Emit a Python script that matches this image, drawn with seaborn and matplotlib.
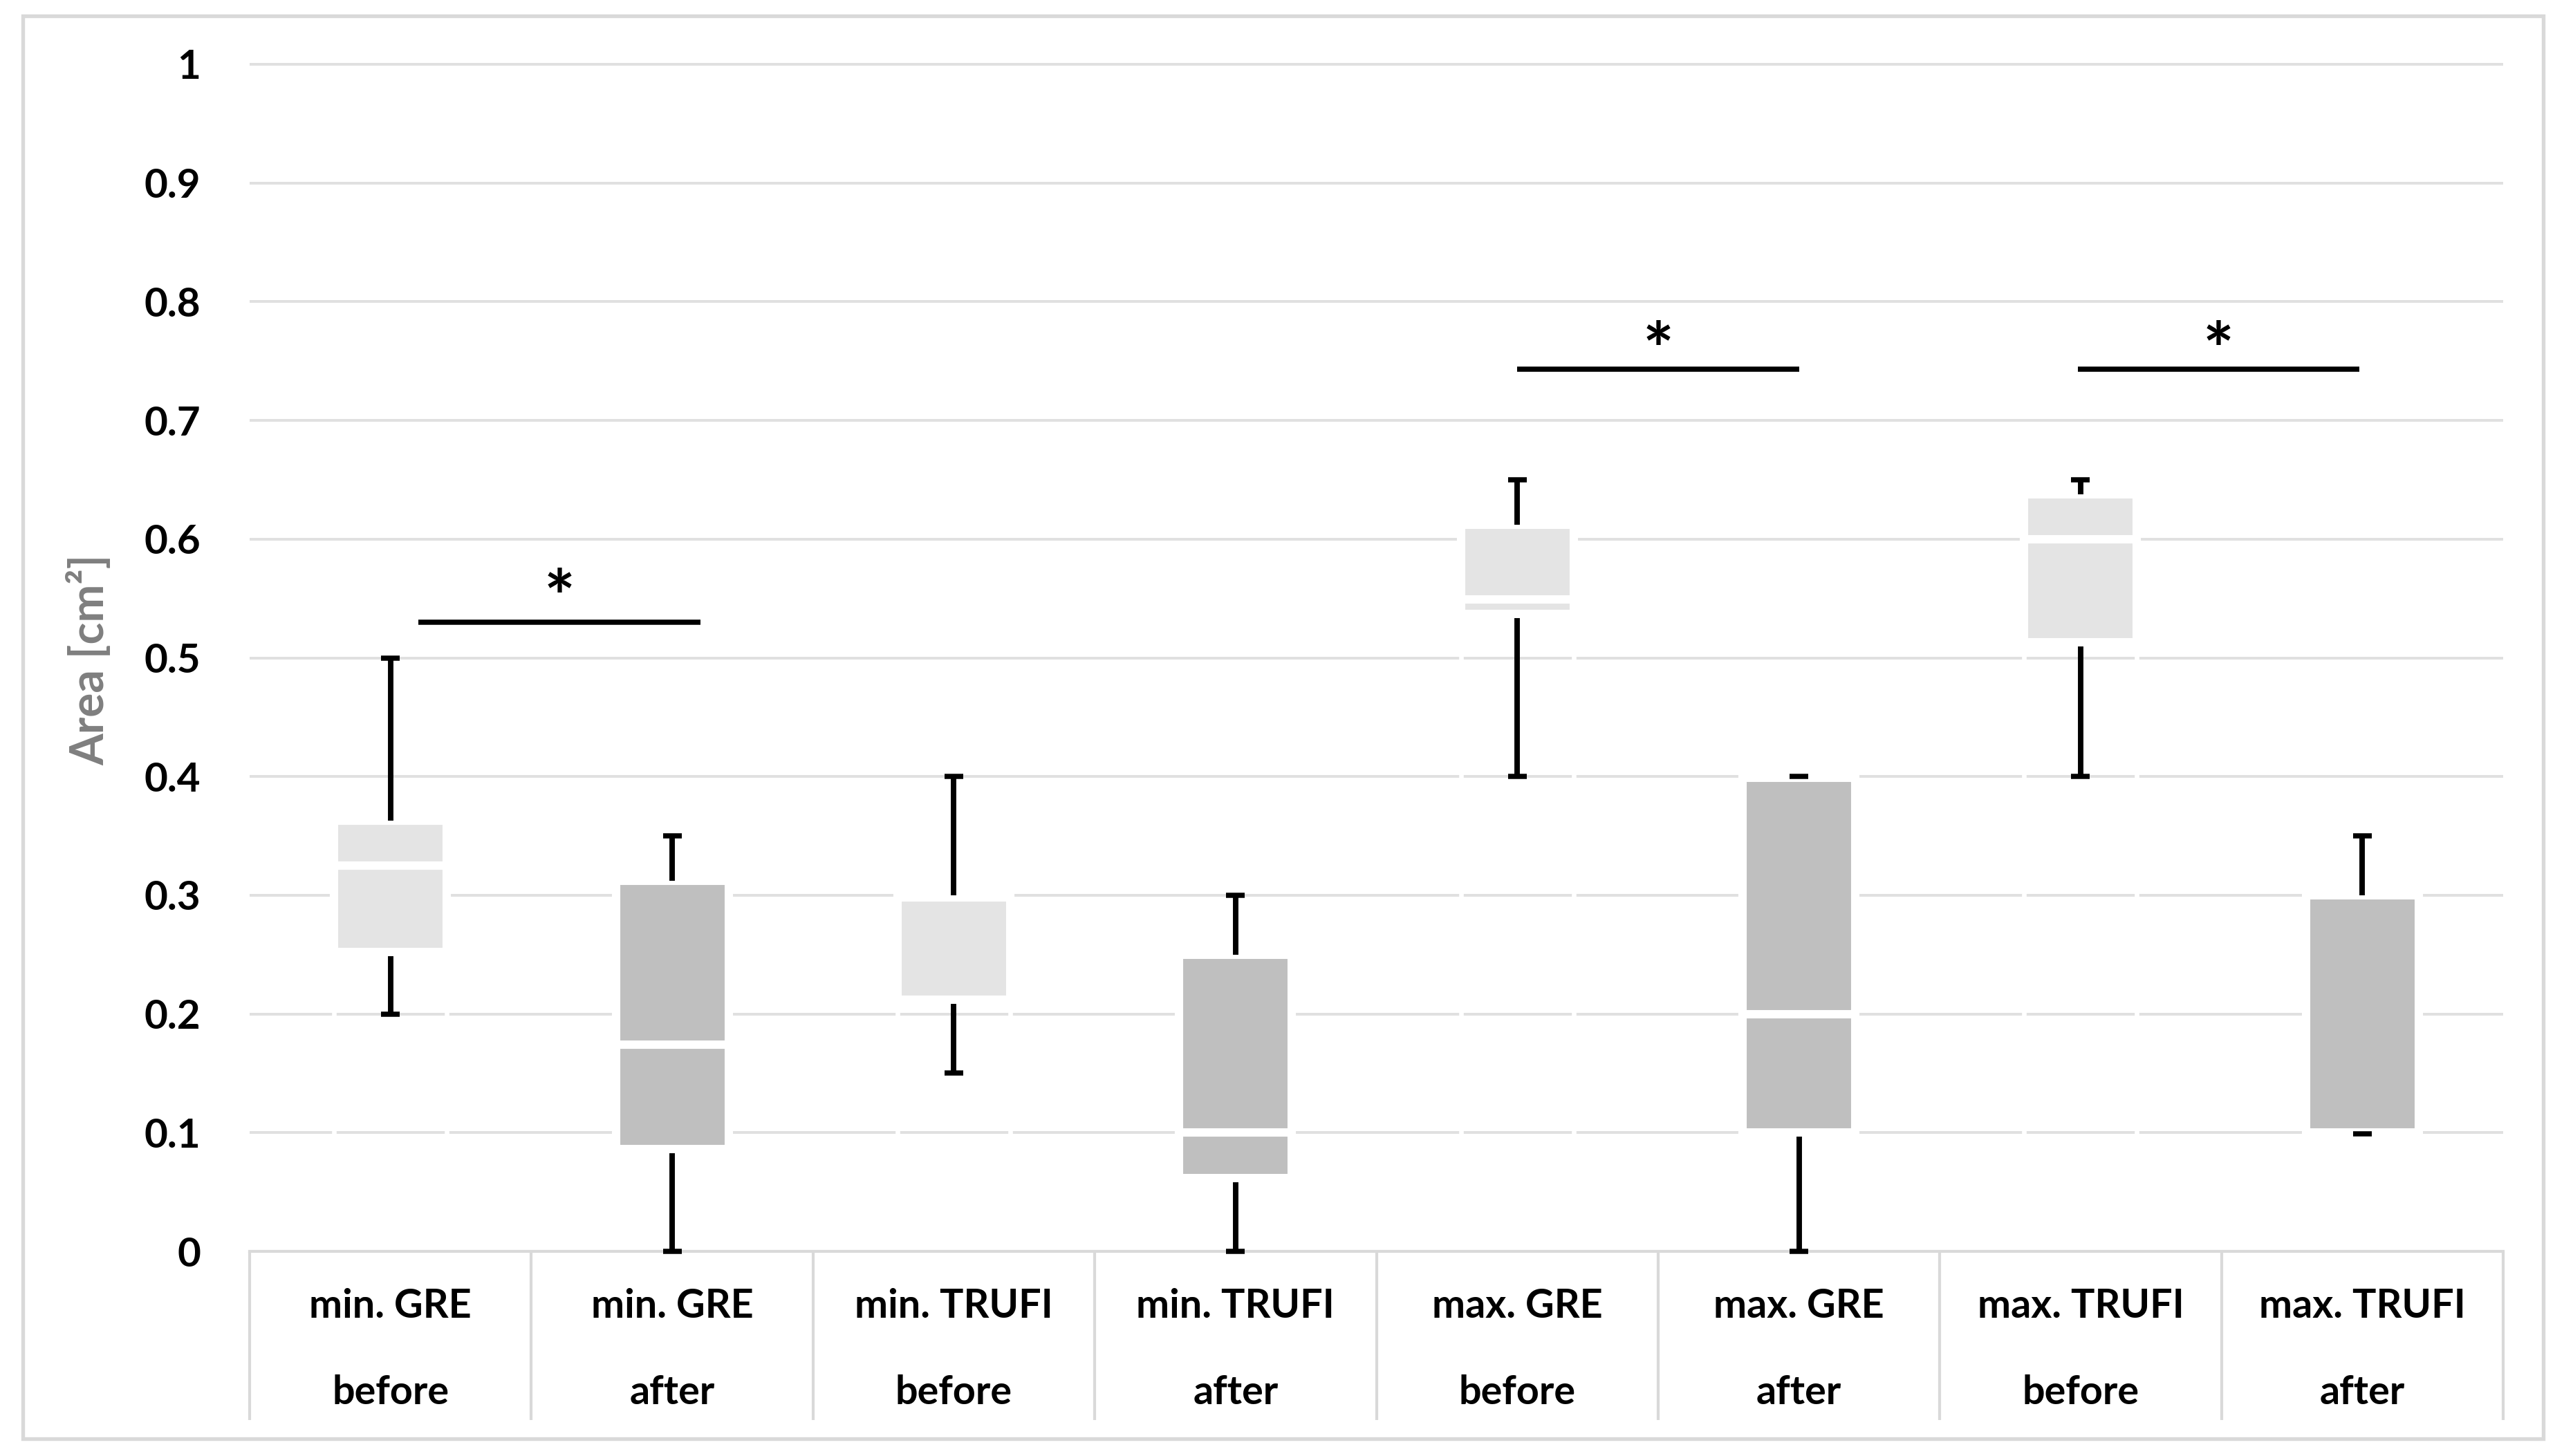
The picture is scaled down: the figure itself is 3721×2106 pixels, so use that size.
import numpy as np
import pandas as pd
import matplotlib
matplotlib.use("Agg")
import matplotlib.pyplot as plt
import matplotlib.transforms as mtransforms
from matplotlib.patches import Rectangle
from matplotlib.textpath import TextPath
from matplotlib.font_manager import FontProperties
import seaborn as sns

# ---------------- data ----------------
groups = ["min. GRE", "min. GRE", "min. TRUFI", "min. TRUFI",
          "max. GRE", "max. GRE", "max. TRUFI", "max. TRUFI"]
phases = ["before", "after", "before", "after",
          "before", "after", "before", "after"]
whisker_min = [0.200, 0.000, 0.150, 0.000, 0.400, 0.000, 0.400, 0.099]
q1          = [0.252, 0.086, 0.212, 0.062, 0.537, 0.100, 0.513, 0.100]
median      = [0.325, 0.174, 0.298, 0.100, 0.549, 0.200, 0.600, 0.100]
q3          = [0.363, 0.312, 0.300, 0.250, 0.612, 0.399, 0.638, 0.300]
whisker_max = [0.500, 0.350, 0.400, 0.300, 0.650, 0.400, 0.650, 0.350]

ytick_values = [0.0, 0.1, 0.2, 0.3, 0.4, 0.5, 0.6, 0.7, 0.8, 0.9, 1.0]
ytick_labels = ["0", "0.1", "0.2", "0.3", "0.4", "0.5", "0.6", "0.7", "0.8", "0.9", "1"]
y_label = "Area [cm²]"

# significance brackets (category-position units)
sig_start = [0.10, 4.00, 5.99]
sig_end = [1.10, 5.00, 6.99]
sig_y = [0.530, 0.743, 0.743]
star_y = [0.566, 0.774, 0.774]
sig_text = ["*", "*", "*"]

phase_colors = {"before": "#E4E4E4", "after": "#BFBFBF"}

# ---------------- figure ----------------
sns.set_style("white")
plt.rcParams["font.family"] = ["Lato", "DejaVu Sans"]

W, H, DPI = 3721, 2106, 300
fig = plt.figure(figsize=(W / DPI, H / DPI), dpi=DPI)
ax_left, ax_right, y0_px, y1_px = 361, 3620, 1810, 93
ymax = 1.01
ax_h_px = (y0_px - y1_px) * ymax
ax = fig.add_axes([ax_left / W, (H - y0_px) / H, (ax_right - ax_left) / W, ax_h_px / H])

cats = [f"{g} {p}" for g, p in zip(groups, phases)]
df = pd.DataFrame({
    "category": cats,
    "phase": phases,
    "q1": q1,
    "median": median,
    "q3": q3,
    "lower_h": np.array(median) - np.array(q1),
    "upper_h": np.array(q3) - np.array(median),
})
face = [phase_colors[p] for p in phases]
box_w = 0.40

# invisible base segment (0 .. Q1) with thin white outline
sns.barplot(data=df, x="category", y="q1", order=cats, width=box_w, errorbar=None,
            color="white", facecolor="none", edgecolor="white", linewidth=1.6,
            ax=ax, zorder=1)
# lower box segment (Q1 .. median)
sns.barplot(data=df, x="category", y="lower_h", order=cats, width=box_w, errorbar=None,
            color="#BFBFBF", bottom=df["q1"].values, facecolor=face, edgecolor="white",
            linewidth=2.9, ax=ax, zorder=1.2)
# upper box segment (median .. Q3)
sns.barplot(data=df, x="category", y="upper_h", order=cats, width=box_w, errorbar=None,
            color="#BFBFBF", bottom=df["median"].values, facecolor=face, edgecolor="white",
            linewidth=2.9, ax=ax, zorder=1.2)

pos = np.arange(len(cats))
cap_half = 0.033
ax.vlines(pos, q3, whisker_max, color="black", lw=1.9, zorder=4)
ax.vlines(pos, whisker_min, q1, color="black", lw=1.9, zorder=0.9)
ax.hlines(whisker_max, pos - cap_half, pos + cap_half, color="black", lw=1.8, zorder=5)
ax.hlines(whisker_min, pos - cap_half, pos + cap_half, color="black", lw=1.8, zorder=5,
          clip_on=False)

# axes styling
ax.set_xlim(-0.5, len(cats) - 0.5)
ax.set_ylim(0, ymax)
ax.set_yticks(ytick_values)
ax.set_yticklabels(ytick_labels, fontsize=14, fontweight="bold", color="black")
ax.tick_params(axis="y", length=0, pad=17)
ax.set_xticks([])
ax.set_xlabel("")
ax.set_ylabel("")
ax.yaxis.grid(True, color="#E0E0E0", lw=0.96)
ax.xaxis.grid(False)
ax.set_axisbelow(True)
for s in ["top", "right", "left"]:
    ax.spines[s].set_visible(False)
ax.spines["bottom"].set_color("#D9D9D9")
ax.spines["bottom"].set_linewidth(1.0)
ax.spines["bottom"].set_zorder(3)

# category table lines + labels
ax.vlines(np.arange(len(cats) + 1) - 0.5, -0.142, 0, color="#D9D9D9", lw=1.0, clip_on=False)
for i, (g, p) in enumerate(zip(groups, phases)):
    ax.text(i, -0.0559, g, ha="center", va="baseline", fontsize=13.8, fontweight="bold",
            color="black", clip_on=False)
    ax.text(i, -0.1287, p, ha="center", va="baseline", fontsize=13.8, fontweight="bold",
            color="black", clip_on=False)

# y label
fig.text(130 / W, (H - 954) / H, y_label, rotation=90, ha="center", va="center",
         color="#7F7F7F", fontsize=15.8, fontweight="bold")

# significance brackets
ax.hlines(sig_y, sig_start, sig_end, color="black", lw=1.8, zorder=5)
fp = FontProperties(family=["Lato", "DejaVu Sans"], weight="bold")
ext = TextPath((0, 0), "*", size=1, prop=fp).get_extents()
star_h_pt = 36 * 72 / DPI
star_fs = star_h_pt / ext.height
center_off = (ext.y0 + ext.y1) / 2 * star_fs
star_tr = mtransforms.offset_copy(ax.transData, fig=fig, y=-center_off, units="points")
for s, e, sy, t in zip(sig_start, sig_end, star_y, sig_text):
    ax.text((s + e) / 2, sy, t, ha="center", va="baseline", fontsize=star_fs,
            fontweight="bold", color="black", transform=star_tr)

# outer chart border
fig.add_artist(Rectangle((33 / W, 1 - 2081 / H), (3678 - 33) / W, (2081 - 23) / H,
                         transform=fig.transFigure, fill=False, edgecolor="#D9D9D9", lw=1.3))

fig.savefig("out.png", dpi=DPI, facecolor="white")
